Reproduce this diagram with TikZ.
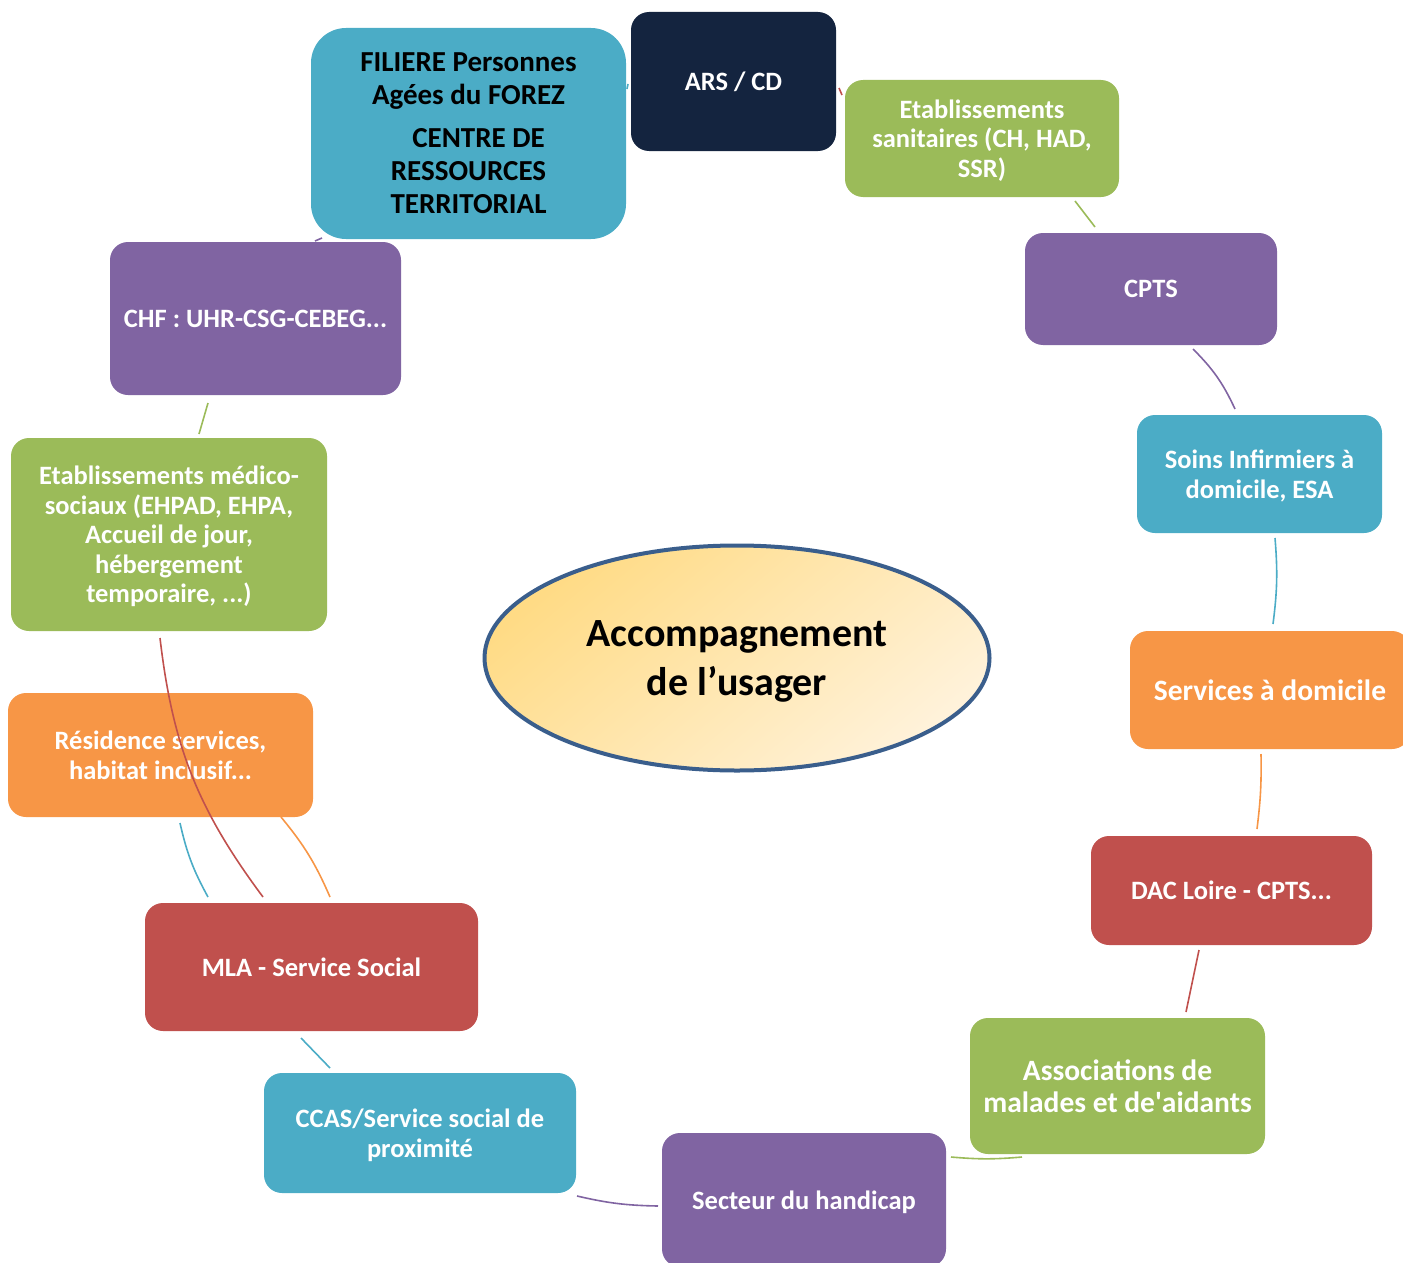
\documentclass[tikz,border=0pt]{standalone}
\usepackage{fontspec}
\setmainfont{Carlito}
\newfontfamily\plainfont{Carlito}[Ligatures=TeXOff]
\usetikzlibrary{shapes.geometric}
\definecolor{cblue}{HTML}{4BACC6}
\definecolor{cgreen}{HTML}{9BBB59}
\definecolor{cpurple}{HTML}{8064A2}
\definecolor{corange}{HTML}{F79646}
\definecolor{cred}{HTML}{C0504D}
\definecolor{cnavy}{HTML}{14243F}
\definecolor{cborder}{HTML}{3A5E8C}
\definecolor{yfillA}{HTML}{FFDB85}
\definecolor{yfillB}{HTML}{FFF2DA}
\begin{document}
\begin{tikzpicture}[x=1pt,y=-1pt,
  box/.style={rounded corners=18pt, inner sep=0pt, align=center, text=white, text depth=0pt,
    font=\bfseries\fontsize{26.5}{29.5}\selectfont},
  bigtxt/.style={font=\bfseries\fontsize{29.5}{32}\selectfont},
  conn/.style={line width=1.6pt}]
\useasboundingbox (0,0) rectangle (1403,1263);
\clip (0,0) rectangle (1403,1263);

% central ellipse
\node[ellipse, draw=cborder, line width=4pt, minimum width=505pt, minimum height=225pt,
  top color=yfillA, bottom color=yfillB, shading angle=40, inner sep=0pt, align=center,
  text depth=0pt, font=\bfseries\fontsize{40}{49}\selectfont] (center) at (737,658)
  {Accompagnement\\de l'usager};

% boxes
\node[box, fill=cblue, text=black, rounded corners=35pt, minimum width=315pt, minimum height=211pt,
  font=\bfseries\fontsize{29}{33}\selectfont] (filiere) at (468.5,133.5)
  {FILIERE Personnes\\Agées du FOREZ\\[10pt]\hspace*{20pt}CENTRE DE\\RESSOURCES\\TERRITORIAL};
\node[box, fill=cnavy, minimum width=205pt, minimum height=139pt] (ars) at (733.5,81.5) {ARS / CD};
\node[box, fill=cgreen, minimum width=274pt, minimum height=117pt] (etabsan) at (982,138.5)
  {Etablissements\\sanitaires (CH, HAD,\\SSR)};
\node[box, fill=cpurple, minimum width=252pt, minimum height=112pt] (cpts) at (1151,289) {CPTS};
\node[box, fill=cblue, minimum width=245pt, minimum height=118pt] (soins) at (1259.5,474)
  {Soins Infirmiers à\\domicile, ESA};
\node[box, bigtxt, fill=corange, minimum width=280pt, minimum height=118pt] (servdom) at (1270,690)
  {Services à domicile};
\node[box, fill=cred, minimum width=281pt, minimum height=109pt] (dac) at (1231.5,890.5)
  {DAC Loire - CPTS...};
\node[box, bigtxt, fill=cgreen, minimum width=295pt, minimum height=136pt] (assoc) at (1117.5,1086)
  {Associations de\\malades et de{\plainfont\bfseries'}aidants};
\node[box, fill=cpurple, minimum width=284pt, minimum height=134pt] (secteur) at (804,1200)
  {Secteur du handicap};
\node[box, fill=cblue, minimum width=312pt, minimum height=120pt] (ccas) at (420,1133)
  {CCAS/Service social de\\proximité};
\node[box, fill=cred, minimum width=333pt, minimum height=128pt] (mla) at (311.5,967)
  {MLA - Service Social};
\node[box, fill=corange, minimum width=305pt, minimum height=124pt] (resid) at (160.5,755)
  {Résidence services,\\habitat inclusif...};
\node[box, fill=cgreen, minimum width=316pt, minimum height=193pt] (medico) at (169,534.5)
  {Etablissements médico-\\sociaux (EHPAD, EHPA,\\Accueil de jour,\\hébergement\\temporaire, ...)};
\node[box, fill=cpurple, minimum width=291pt, minimum height=153pt] (chf) at (255.5,318.5)
  {CHF : UHR-CSG-CEBEG...};

% connector end points
\coordinate (fa1) at (628,84);   \coordinate (fa2) at (627,89);
\coordinate (ae1) at (839,88);   \coordinate (ae2) at (842,95);
\coordinate (ec1) at (1075,201); \coordinate (ec2) at (1095,227);
\coordinate (cs1) at (1193,349); \coordinate (cs2) at (1235,409);
\coordinate (ss1) at (1275,538); \coordinate (ss2) at (1273,624);
\coordinate (sd1) at (1261,754); \coordinate (sd2) at (1257,829);
\coordinate (da1) at (1199,950); \coordinate (da2) at (1186,1012);
\coordinate (as1) at (1022,1157); \coordinate (as2) at (951,1157);
\coordinate (sc1) at (658,1206); \coordinate (sc2) at (577,1196);
\coordinate (cm1) at (330,1068); \coordinate (cm2) at (301,1038);
\coordinate (mrb1) at (208,897); \coordinate (mrb2) at (180,823);
\coordinate (mro1) at (330,897); \coordinate (mro2) at (281,817);
\coordinate (mmr1) at (263,897); \coordinate (mmr2) at (160,638);
\coordinate (mc1) at (199,434);  \coordinate (mc2) at (208,403);
\coordinate (cf1) at (315,241);  \coordinate (cf2) at (322,238);

% connectors
\draw[conn, cblue] (fa1) -- (fa2);
\draw[conn, cred] (ae1) -- (ae2);
\draw[conn, cgreen] (ec1) -- (ec2);
\draw[conn, cpurple] (cs1) to[bend left=10] (cs2);
\draw[conn, cblue] (ss1) to[bend left=6] (ss2);
\draw[conn, corange] (sd1) to[bend left=4] (sd2);
\draw[conn, cred] (da1) -- (da2);
\draw[conn, cgreen] (as1) to[bend left=5] (as2);
\draw[conn, cpurple] (sc1) to[bend left=6] (sc2);
\draw[conn, cblue] (cm1) -- (cm2);
\draw[conn, cblue] (mrb1) to[bend left=8] (mrb2);
\draw[conn, corange] (mro1) to[bend right=8] (mro2);
\draw[conn, cred] (mmr1) to[bend left=15] (mmr2);
\draw[conn, cgreen] (mc1) -- (mc2);
\draw[conn, cpurple] (cf1) -- (cf2);
\end{tikzpicture}
\end{document}
